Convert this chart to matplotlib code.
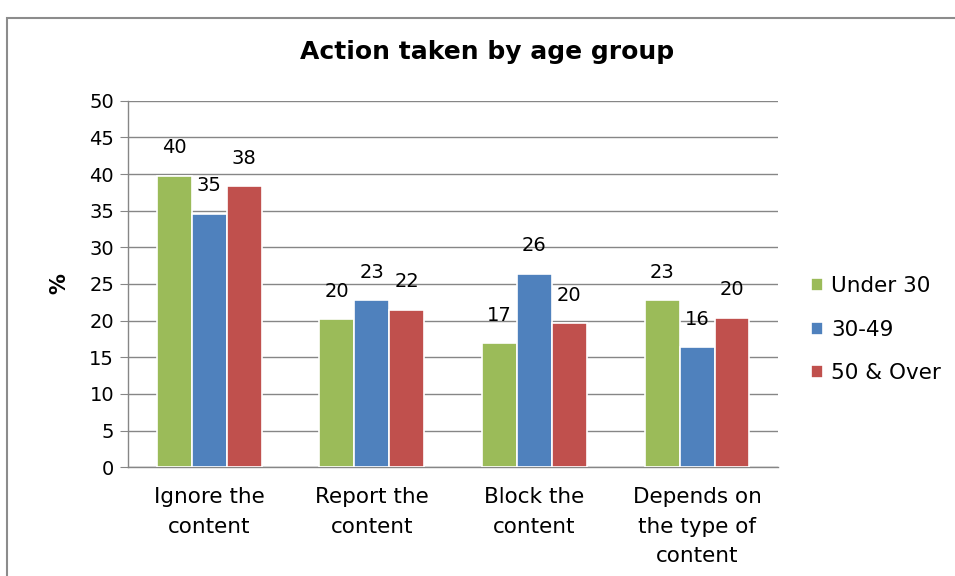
import matplotlib.pyplot as plt
import numpy as np
from matplotlib.patches import Rectangle

categories = ['Ignore the\ncontent', 'Report the\ncontent', 'Block the\ncontent',
              'Depends on\nthe type of\ncontent']
series_names = ['Under 30', '30-49', '50 & Over']
under_30 = [39.8, 20.2, 16.9, 22.8]
age_30_49 = [34.6, 22.8, 26.4, 16.4]
over_50 = [38.4, 21.5, 19.7, 20.4]
colors = ['#9BBB59', '#4F81BD', '#C0504D']

plt.rcParams['font.family'] = 'DejaVu Sans'

fig = plt.figure(figsize=(9.55, 5.76), dpi=100)
ax = fig.add_axes([0.134, 0.189, 0.681, 0.636])

# outer chart frame (cropped at right and bottom)
fig.patches.append(Rectangle((7 / 955, -0.1), 1.2, 1.1 - 18 / 576,
                             transform=fig.transFigure, fill=False,
                             edgecolor='#8C8C8C', linewidth=1.5))

x = np.arange(len(categories))
width = 0.215
for i, (vals, name, c) in enumerate(zip([under_30, age_30_49, over_50], series_names, colors)):
    pos = x + (i - 1) * width
    ax.bar(pos, vals, width, color=c, edgecolor='white', linewidth=1.2, label=name, zorder=3)
    for p, v in zip(pos, vals):
        ax.annotate(f'{v:.0f}', (p, v), xytext=(0, 20), textcoords='offset points',
                    ha='center', va='center', fontsize=14, color='black', zorder=4)

ax.set_xlim(-0.5, len(categories) - 0.5)
ax.set_ylim(0, 50)
ax.set_yticks(np.arange(0, 51, 5))
ax.set_xticks(x)
ax.set_xticklabels(categories, fontsize=15.5, linespacing=1.62)
ax.tick_params(axis='x', length=0, pad=14)
ax.tick_params(axis='y', length=6, color='#868686', labelsize=14, pad=4)
ax.grid(axis='y', color='#868686', linewidth=1.0, zorder=0)
for s in ['top', 'right']:
    ax.spines[s].set_visible(False)
for s in ['left', 'bottom']:
    ax.spines[s].set_color('#868686')
    ax.spines[s].set_linewidth(1.0)

ax.set_ylabel('%', fontsize=15, fontweight='bold', labelpad=14)
fig.text(0.51, 1 - 52 / 576, 'Action taken by age group', ha='center', va='center',
         fontsize=18, fontweight='bold')

ax.legend(loc='center left', bbox_to_anchor=(1.02, 0.375), frameon=False, fontsize=15.5,
          handlelength=0.55, handleheight=0.55, handletextpad=0.4, labelspacing=1.1)

fig.savefig('out.png', dpi=100, facecolor='white')
